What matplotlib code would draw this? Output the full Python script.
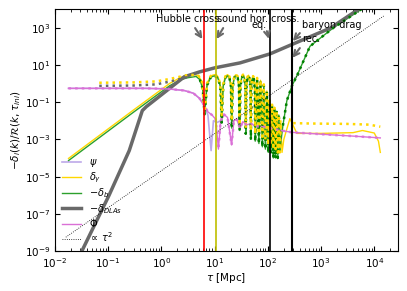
import matplotlib.pyplot as plt
import numpy as np

# conformal time tau [Mpc] and -delta_i(k)/R(k, tau_ini)

# delta_gamma, solid (synchronous)
tau_g = [0.018, 0.3, 1.42, 2.2, 3.0, 4.0, 5.0, 5.8, 6.5, 7.2, 8.5, 10.0, 11.5, 12.8,
         13.6, 14.5, 16.0, 17.5, 19.0, 20.3, 21.0, 22.0, 23.5, 25.3, 27.2, 28.7, 29.5, 30.6,
         32.3, 34.2, 36.2, 37.7, 38.5, 39.7, 41.5, 43.3, 45.3, 47.0, 48.0, 49.2, 51.0, 53.0,
         55.0, 57.0, 58.0, 63.0, 68.0, 73.0, 79.0, 84.0, 90.0, 96.0, 102.0, 108.0, 114.0,
         120.0, 127.0, 133.0, 140.0, 147.0, 154.0, 161.0, 168.0, 175.0, 185.0, 200.0, 230.0,
         260.0, 352.0, 1000.0, 4000.0, 6000.0, 1.0e4, 1.2e4, 1.3e4]
d_g = [9.5e-5, 0.038, 1.0, 2.0, 2.8, 3.1, 2.6, 1.2, 0.03, 1.0, 2.6, 3.0, 2.4, 0.9,
       0.02, 0.9, 2.5, 3.0, 2.4, 0.9, 0.01, 0.9, 2.5, 3.0, 2.4, 0.9, 0.006, 0.9,
       2.4, 3.0, 2.4, 0.9, 0.004, 0.9, 2.3, 2.8, 2.2, 0.8, 0.003, 0.8, 2.0, 2.5,
       1.9, 0.7, 0.002, 2.0, 0.002, 1.5, 0.001, 0.9, 0.001, 0.4, 5e-4, 0.15, 5e-4,
       0.08, 3e-4, 0.05, 3e-4, 0.03, 2e-4, 0.02, 2e-4, 0.01, 2e-4, 1e-3, 4e-3,
       0.013, 2.1e-3, 2.1e-3, 2.3e-3, 3.0e-3, 2.2e-3, 8e-4, 2e-4]

# delta_gamma, dotted (newtonian) : early and late parts
tau_gN_early = [0.068, 0.3, 0.8, 1.5, 2.5, 3.4]
d_gN_early = [1.1, 1.15, 1.3, 1.8, 2.5, 3.0]
tau_gN_late = [300.0, 500.0, 1000.0, 3000.0, 8000.0, 1.3e4]
d_gN_late = [7.5e-3, 7.2e-3, 7.0e-3, 6.8e-3, 6.2e-3, 4.8e-3]

# -delta_b, solid
tau_b = [0.018, 0.3, 1.42, 2.2, 3.0, 4.5, 5.3, 6.0, 6.5, 7.2, 8.5, 10.0, 11.5, 12.8,
         13.6, 14.5, 16.0, 17.5, 19.0, 20.3, 21.0, 22.0, 23.5, 25.3, 27.2, 28.7, 29.5, 30.6,
         32.3, 34.2, 36.2, 37.7, 38.5, 39.7, 41.5, 43.3, 45.3, 47.0, 48.0, 49.2, 51.0, 53.0,
         55.0, 57.0, 58.0, 63.0, 68.0, 73.0, 79.0, 84.0, 90.0, 96.0, 102.0, 108.0, 114.0,
         120.0, 127.0, 133.0, 140.0, 147.0, 154.0, 161.0, 168.0, 192.0, 228.0, 284.0, 352.0,
         620.0, 1683.0, 5445.0, 1.5e4]
d_b = [7.3e-5, 0.029, 0.75, 1.5, 2.0, 2.4, 1.6, 0.5, 0.02, 0.8, 2.2, 2.6, 2.0, 0.7,
       0.008, 0.7, 2.1, 2.6, 2.0, 0.7, 0.004, 0.7, 2.1, 2.6, 2.0, 0.7, 0.003, 0.7,
       2.0, 2.6, 2.0, 0.7, 0.002, 0.7, 2.0, 2.4, 1.9, 0.6, 0.001, 0.6, 1.7, 2.2,
       1.6, 0.5, 8e-4, 1.7, 6e-4, 1.3, 4e-4, 0.8, 3e-4, 0.35, 2e-4, 0.13, 2e-4,
       0.07, 1e-4, 0.045, 1e-4, 0.03, 1e-4, 0.02, 2.5e-4, 5.5e-3, 0.12, 0.75, 2.6,
       100.0, 955.0, 8800.0, 7e4]

# -delta_DLAs, solid
tau_dla = [0.032, 0.104, 0.249, 0.438, 0.52, 2.7, 5.2, 10.0, 30.0, 110.0, 400.0, 1500.0,
           4800.0, 1.2e4]
d_dla = [1e-9, 1e-6, 2.5e-4, 0.035, 0.057, 2.3, 4.2, 6.9, 12.8, 39.0, 190.0, 950.0,
         8700.0, 4e4]

# -delta_DLAs, dotted
tau_dlaN = [0.068, 0.3, 0.8, 1.5, 2.5, 3.4]
d_dlaN = [0.75, 0.78, 0.9, 1.3, 1.9, 2.4]

# Phi
tau_phi = [0.018, 0.5, 0.9, 1.5, 2.7, 4.0, 5.2, 6.3, 7.5, 9.0, 10.5, 11.8, 13.0, 15.0, 17.5,
           20.9, 23.0, 26.0, 30.0, 34.0, 40.0, 48.0, 60.0, 80.0, 110.0, 180.0, 280.0, 1000.0,
           4000.0, 1.3e4]
phi = [0.55, 0.55, 0.53, 0.5, 0.42, 0.3, 0.16, 0.07, 0.03, 0.02, 0.012, 3e-4, 0.01, 0.022,
       0.015, 5e-4, 0.01, 0.012, 0.004, 0.009, 0.006, 0.007, 0.005, 0.005, 0.004, 0.003,
       2.4e-3, 1.9e-3, 1.5e-3, 1.2e-3]

# psi
tau_psi = [0.018, 0.5, 0.9, 1.5, 2.7, 4.0, 5.2, 6.3, 7.5, 8.6, 9.5, 11.0, 13.0]
psi = [0.55, 0.55, 0.53, 0.5, 0.42, 0.3, 0.16, 0.07, 0.02, 2.5e-4, 0.01, 0.008, 0.01]

# proportional to tau^2 guide
tau_sq = [0.016, 1.5e4]
val_sq = [5.6e-9, 4.2e3]

# characteristic times
tau_hubble = 6.2
tau_sound = 10.8
tau_eq = 109.0
tau_rec = 280.0

fig, ax = plt.subplots(figsize=(4.07, 2.91), dpi=100)
fig.subplots_adjust(left=0.135, right=0.978, bottom=0.137, top=0.969)

ax.plot(tau_psi, psi, color='mediumpurple', lw=1.2, alpha=0.6, label=r'$\psi$')
ax.plot(tau_g, d_g, color='gold', lw=1.0, label=r'$\delta_\gamma$')
ax.plot(tau_b, d_b, color='tab:green', lw=1.0, label=r'$-\delta_b$')
ax.plot(tau_dla, d_dla, color='dimgray', lw=2.5, label=r'$-\delta_{DLAs}$')
ax.plot(tau_phi, phi, color='orchid', lw=1.0, label=r'$\Phi$')

# newtonian-gauge versions, dotted
ax.plot(tau_b[6:63], d_b[6:63], color='green', lw=1.8, ls=':')
ax.plot(tau_b[63:], d_b[63:], color='green', lw=1.8, ls=':')
ax.plot(tau_gN_early + tau_g[6:64], d_gN_early + d_g[6:64], color='gold', lw=1.8, ls=':')
ax.plot(tau_gN_late, d_gN_late, color='gold', lw=1.8, ls=':')
ax.plot(tau_dlaN, d_dlaN, color='dimgray', lw=1.8, ls=':')
ax.plot(tau_phi, phi, color='orchid', lw=1.8, ls=':', alpha=0.8)

ax.plot(tau_sq, val_sq, 'k:', lw=0.6, label=r'$\propto\,\tau^2$')

ax.axvline(tau_hubble, color='red', lw=1.2)
ax.axvline(tau_sound, color='y', lw=1.2)
ax.axvline(tau_eq, color='k', lw=1.2)
ax.axvline(tau_rec, color='k', lw=1.5)

arrow = dict(arrowstyle='->', color='dimgray', lw=1.5, shrinkA=0, shrinkB=0)
ax.annotate('', xy=(5.9, 245), xytext=(4.3, 950), arrowprops=arrow)
ax.annotate('', xy=(10.9, 245), xytext=(14.5, 950), arrowprops=arrow)
ax.annotate('', xy=(104, 250), xytext=(96, 650), arrowprops=arrow)
ax.annotate('', xy=(296, 190), xytext=(400, 510), arrowprops=arrow)
ax.annotate('', xy=(290, 24), xytext=(400, 80), arrowprops=arrow)
ax.text(0.8, 2.9e3, 'Hubble cross.', fontsize=7, ha='left', va='center')
ax.text(10.9, 2.9e3, 'sound hor. cross.', fontsize=7, ha='left', va='center')
ax.text(50, 1.38e3, 'eq.', fontsize=7, ha='left', va='center')
ax.text(438, 1.38e3, 'baryon drag', fontsize=7, ha='left', va='center')
ax.text(448, 245, 'rec.', fontsize=7, ha='left', va='center')

ax.set_xscale('log')
ax.set_yscale('log')
ax.set_xlim(1e-2, 2.8e4)
ax.set_ylim(1e-9, 1e4)
ax.tick_params(which='both', direction='in', top=True, right=True, labelsize=7.5)
ax.set_xlabel(r'$\tau$ [Mpc]', fontsize=7.5, labelpad=1)
ax.set_ylabel(r'$-\delta_i(k)/\mathcal{R}(k,\tau_{ini})$', fontsize=7.5, labelpad=1)
ax.legend(loc='lower left', frameon=False, fontsize=7, labelspacing=0.15,
          borderaxespad=0.3)

fig.savefig('out.png', dpi=100)
